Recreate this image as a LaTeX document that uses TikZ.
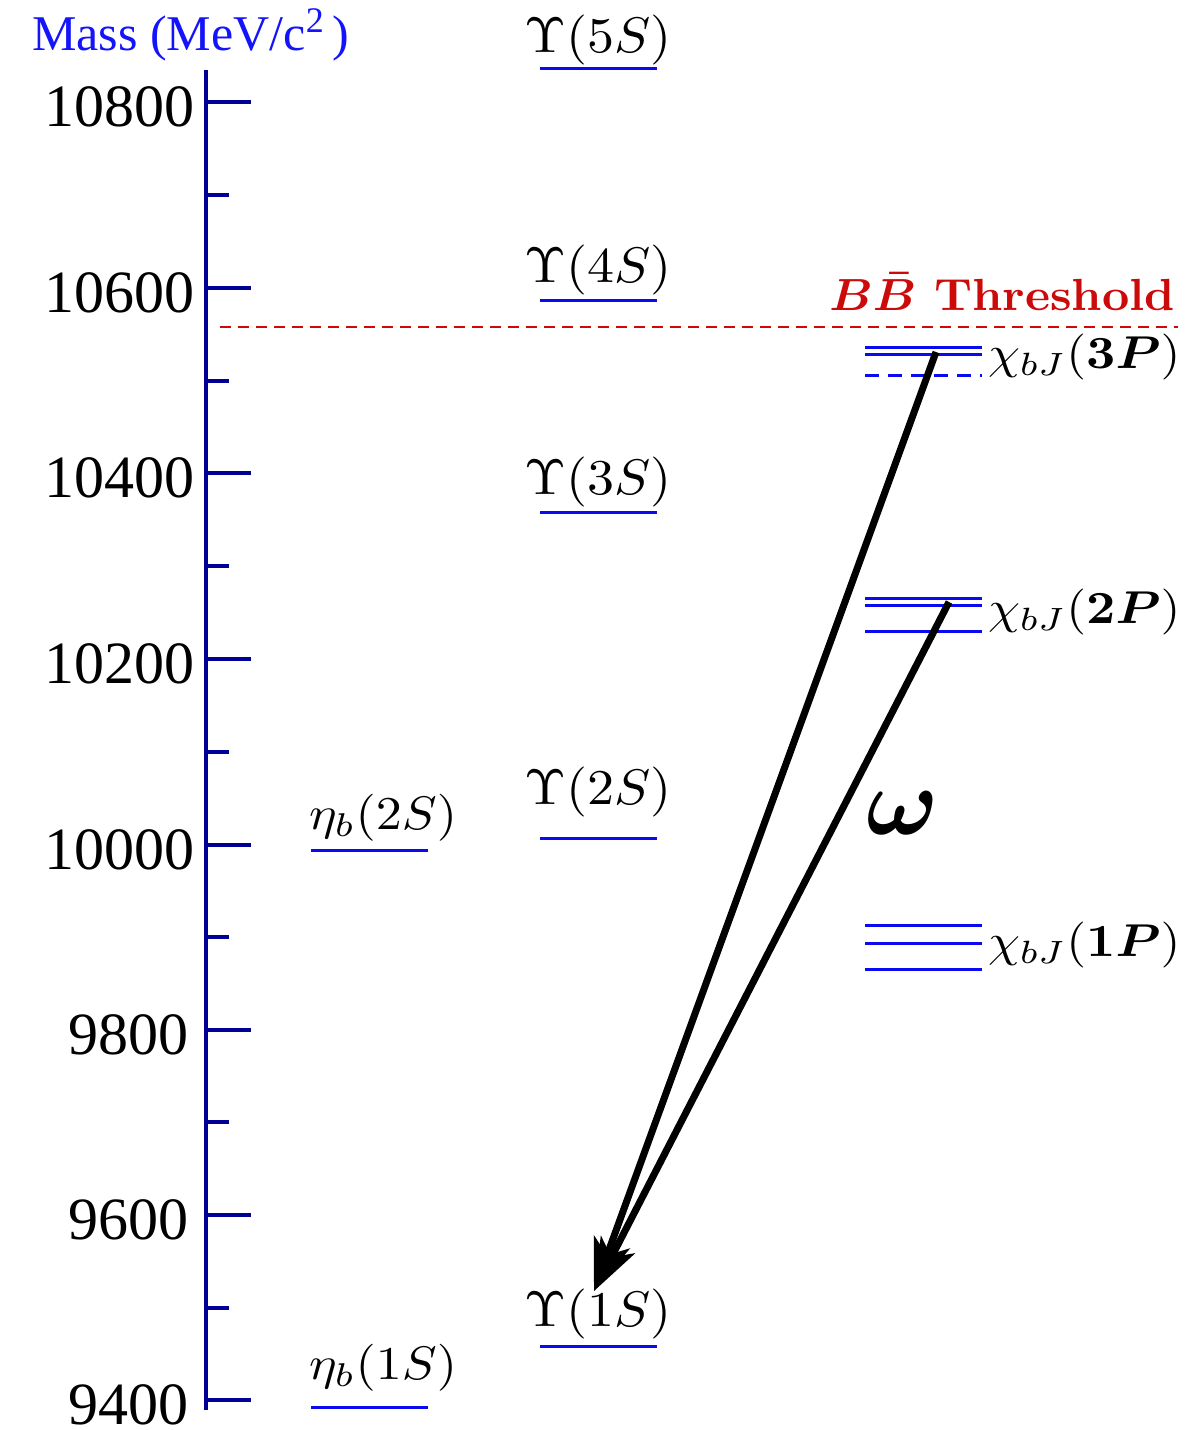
\documentclass[tikz,border=0pt]{standalone}
\usepackage{amsmath}
\usepackage{fontspec}
\newfontfamily\timesf{Liberation Serif}
\usetikzlibrary{arrows.meta}
\definecolor{axisblue}{RGB}{0,0,150}
\definecolor{lvlblue}{RGB}{10,10,240}
\definecolor{lblblue}{RGB}{20,20,250}
\definecolor{thred}{RGB}{205,10,10}
\tikzset{
  axisline/.style={draw=axisblue, line width=3.5pt},
  lvl/.style={draw=lvlblue, line width=3pt},
  lvldash/.style={draw=lvlblue, line width=3pt, dash pattern=on 14pt off 9pt},
  num/.style={font=\timesf\fontsize{60}{62}\selectfont, anchor=east, inner sep=0pt},
  ulbl/.style={xscale=5.4, yscale=5.0, anchor=south, inner sep=0pt},
  etalbl/.style={xscale=5.2, yscale=4.7, anchor=south west, inner sep=0pt},
  chilbl/.style={xscale=5.1, yscale=4.6, anchor=west, inner sep=0pt},
  arr/.style={line width=7pt, -{Stealth[length=52pt,width=38pt,inset=14pt]}},
}
\begin{document}
\begin{tikzpicture}[x=1pt,y=-1pt]
\useasboundingbox (0,0) rectangle (1184,1430);
% axis
\coordinate (axtop) at (206,70);
\coordinate (axbot) at (206,1410);
\draw[axisline] (axtop) -- (axbot);
\foreach \y/\lab/\xr in {102/10800/195,288/10600/195,473/10400/195,659/10200/195,845/10000/195,1030/9800/189,1215/9600/189,1400/9400/189}{
  \draw[axisline] (206,\y) -- (251,\y);
  \node[num] (n\lab) at (\xr,\y+5) {\lab};
}
\foreach \y in {195,381,566,752,937,1122,1308}{
  \draw[axisline] (206,\y) -- (229,\y);
}
\node[font=\timesf\fontsize{50}{52}\selectfont, text=lblblue, anchor=base west, inner sep=0pt] (title) at (32,50) {Mass (MeV/c\raisebox{0.35em}{\fontsize{36}{38}\selectfont 2}\,)};
% threshold
\coordinate (thl) at (220,327);
\coordinate (thr) at (1178,327);
\draw[draw=thred, line width=2pt, dash pattern=on 11pt off 7pt] (thl) -- (thr);
\node[font=\bfseries, xscale=4.75, yscale=4.5, text=thred, anchor=south east, inner sep=0pt] (thlab) at (1176,312) {$\boldsymbol{B\bar{B}}$ Threshold};
% Upsilon levels
\foreach \nm/\y/\ly/\n in {u5/68/66/5,u4/300/296/4,u3/512/508/3,u2/838/818/2,u1/1346/1340/1}{
  \draw[lvl] (540,\y) -- (657,\y);
  \node[ulbl] (\nm) at (598,\ly) {$\Upsilon(\n S)$};
}
% eta_b levels
\draw[lvl] (311,850) -- (428,850);
\node[etalbl] (eta2) at (308,842) {$\eta_b(2S)$};
\draw[lvl] (311,1407) -- (428,1407);
\node[etalbl] (eta1) at (308,1392) {$\eta_b(1S)$};
% chi levels
\draw[lvl] (865,347) -- (982,347);
\draw[lvl] (865,354) -- (982,354);
\draw[lvldash] (865,375) -- (982,375);
\node[chilbl] (chi3) at (987,357) {$\chi_{bJ}(\boldsymbol{3P})$};
\draw[lvl] (865,598) -- (982,598);
\draw[lvl] (865,605) -- (982,605);
\draw[lvl] (865,631) -- (982,631);
\node[chilbl] (chi2) at (987,612) {$\chi_{bJ}(\boldsymbol{2P})$};
\draw[lvl] (865,925) -- (982,925);
\draw[lvl] (865,943) -- (982,943);
\draw[lvl] (865,969) -- (982,969);
\node[chilbl] (chi1) at (987,945) {$\chi_{bJ}(\boldsymbol{1P})$};
% transitions
\coordinate (s3) at (936,352);
\coordinate (s2) at (949,602);
\coordinate (tip) at (594,1291);
\draw[arr] (s3) -- (tip);
\draw[arr] (s2) -- (tip);
\node[scale=9.6, inner sep=0pt] (om) at (903,813) {$\boldsymbol{\omega}$};
\end{tikzpicture}
\end{document}
